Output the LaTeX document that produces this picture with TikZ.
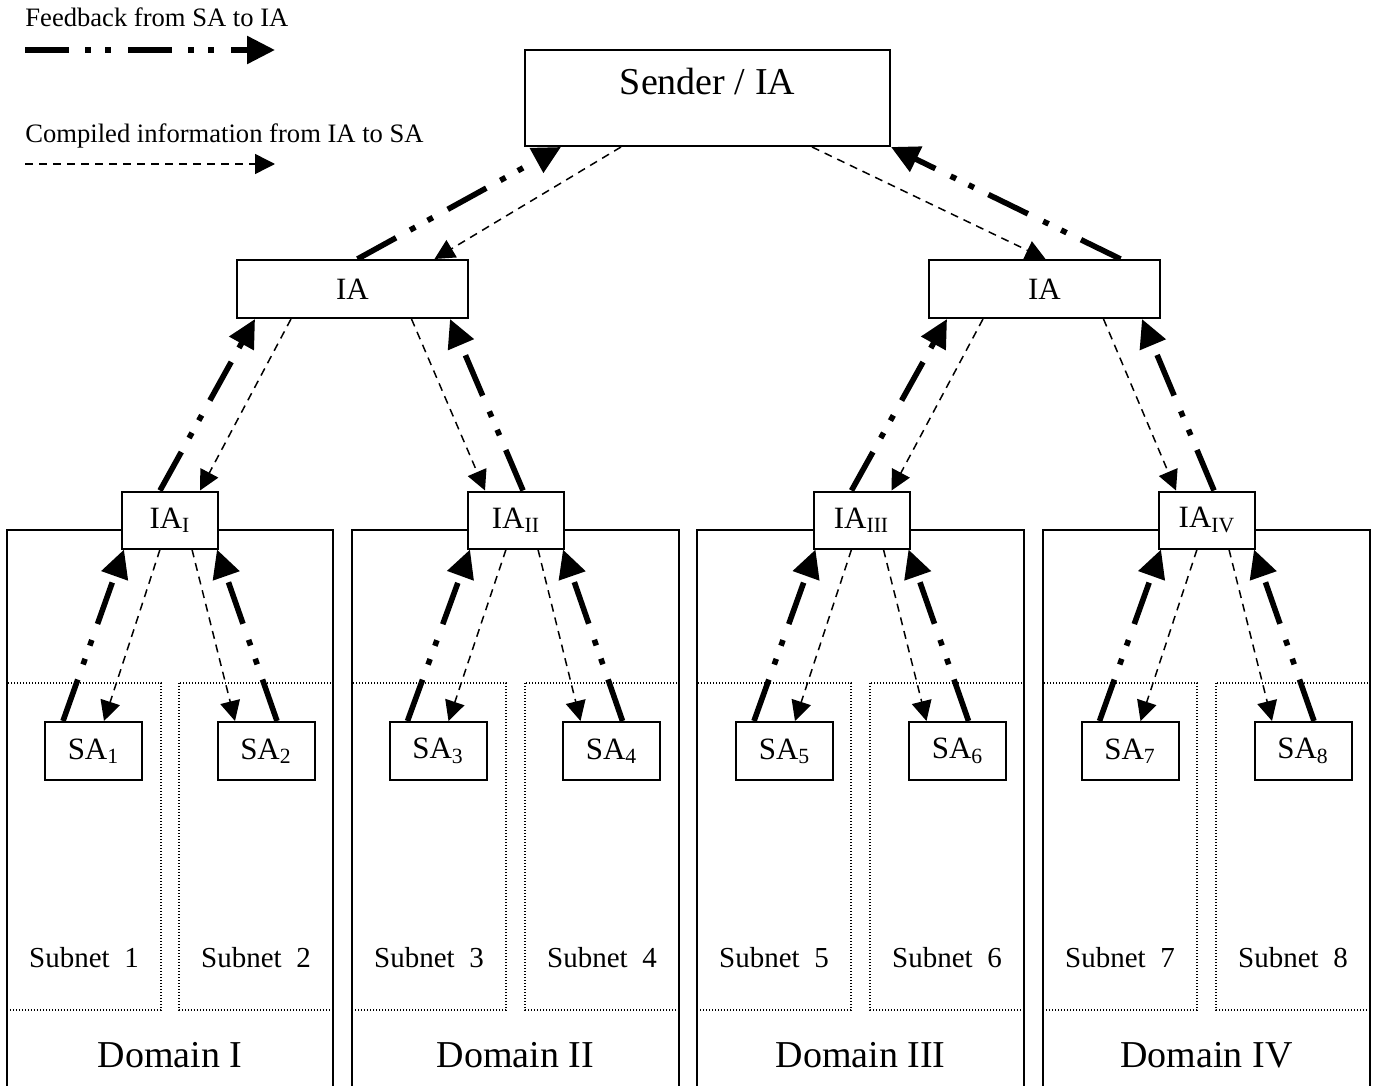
\documentclass[tikz,border=0pt]{standalone}
\usepackage{fontspec}
\setmainfont{Liberation Serif}
\usetikzlibrary{arrows.meta,calc}
\pgfdeclarelayer{bg}
\pgfsetlayers{bg,main}
\begin{document}
\begin{tikzpicture}[x=0.5pt,y=-0.5pt,
  box/.style={draw, line width=1pt, fill=white, inner sep=0pt},
  bigbox/.style={box, minimum width=182.5pt, minimum height=48pt},
  iabox/.style={box, minimum width=115.5pt, minimum height=29pt, font=\fontsize{15.5}{18}\selectfont},
  smbox/.style={box, minimum width=48pt, minimum height=28.5pt, font=\fontsize{15.5}{18}\selectfont},
  sabox/.style={box, minimum width=48.5pt, minimum height=29pt, font=\fontsize{15.5}{18}\selectfont},
  fb/.style={line width=2.8pt, dash pattern=on 22pt off 8pt on 3pt off 7pt on 3pt off 8.5pt, -{Triangle[length=14pt,width=13.5pt]}},
  cmp/.style={line width=0.75pt, dash pattern=on 4pt off 3pt, -{Triangle[length=10pt,width=10pt]}},
  dombox/.style={line width=1pt},
  subbox/.style={line width=0.6pt, dash pattern=on 0.6pt off 0.9pt},
  legtxt/.style={anchor=base west, inner sep=0pt, font=\fontsize{13.3}{16}\selectfont},
  subtxt/.style={anchor=base, inner sep=0pt, font=\fontsize{14.5}{17}\selectfont},
  domtxt/.style={anchor=base, inner sep=0pt, font=\fontsize{19}{22}\selectfont},
]
\useasboundingbox (0,0) rectangle (1377,1086);

% ---------- nodes ----------
\node[bigbox] (sender) at (707.5,98) {};
\node[anchor=base, inner sep=0pt, font=\fontsize{19}{22}\selectfont] (sendertxt) at (707.5,95) {Sender / IA};

\node[iabox] (ial) at (352.5,289) {IA};
\node[iabox] (iar) at (1044.5,289) {IA};

\node[smbox] (ia1) at (170,520) {IA\textsubscript{I}};
\node[smbox] (ia2) at (516,520) {IA\textsubscript{II}};
\node[smbox] (ia3) at (861.5,520) {IA\textsubscript{III}};
\node[smbox] (ia4) at (1207,520) {IA\textsubscript{IV}};

\node[sabox] (sa1) at (93.5,751) {SA\textsubscript{1}};
\node[sabox] (sa2) at (266,751) {SA\textsubscript{2}};
\node[sabox] (sa3) at (438,751) {SA\textsubscript{3}};
\node[sabox] (sa4) at (611.5,751) {SA\textsubscript{4}};
\node[sabox] (sa5) at (784.5,751) {SA\textsubscript{5}};
\node[sabox] (sa6) at (957.5,751) {SA\textsubscript{6}};
\node[sabox] (sa7) at (1130,751) {SA\textsubscript{7}};
\node[sabox] (sa8) at (1303,751) {SA\textsubscript{8}};

% subnet and domain labels
\node[subtxt] (sub1) at (84,967) {Subnet~~1};
\node[subtxt] (sub2) at (256,967) {Subnet~~2};
\node[subtxt] (sub3) at (429,967) {Subnet~~3};
\node[subtxt] (sub4) at (602,967) {Subnet~~4};
\node[subtxt] (sub5) at (774,967) {Subnet~~5};
\node[subtxt] (sub6) at (947,967) {Subnet~~6};
\node[subtxt] (sub7) at (1120,967) {Subnet~~7};
\node[subtxt] (sub8) at (1293,967) {Subnet~~8};

\node[domtxt] (dom1) at (170,1067) {Domain I};
\node[domtxt] (dom2) at (515.5,1067) {Domain II};
\node[domtxt] (dom3) at (860.5,1067) {Domain III};
\node[domtxt] (dom4) at (1206.5,1067) {Domain IV};

% legend
\node[legtxt] (fbtxt) at (25,27) {Feedback from SA to IA};
\node[legtxt] (cmptxt) at (25,142) {Compiled information from IA to SA};
\coordinate (fbA) at (25,50);
\coordinate (fbB) at (275,50);
\coordinate (cmA) at (25,164);
\coordinate (cmB) at (275,164);

\begin{pgfonlayer}{bg}
  % domains
  \draw[dombox] (7,1100) |- (333,530) -- (333,1100);
  \draw[dombox] (352,1100) |- (679,530) -- (679,1100);
  \draw[dombox] (697,1100) |- (1024,530) -- (1024,1100);
  \draw[dombox] (1043,1100) |- (1370,530) -- (1370,1100);
  % subnets
  \foreach \xa/\xb in {7/161,179/333,352/506,525/679,697/851,870/1024,1043/1197,1216/1370}
    \draw[subbox] (\xa,683) rectangle (\xb,1010);

  % legend arrows
  \draw[fb] (fbA) -- (fbB);
  \draw[cmp] (cmA) -- (cmB);

  % top level
  \draw[fb] ($(ial.north)+(5,0)$) -- ($(sender.south west)+(37,0)$);
  \draw[cmp] ($(sender.south west)+(97,0)$) -- ($(ial.north)+(82,0)$);
  \draw[cmp] ($(sender.south west)+(288,0)$) -- ($(iar.north)+(1,0)$);
  \draw[fb] ($(iar.north)+(76,0)$) -- (sender.south east);

  % second level
  \foreach \p/\a/\b in {ial/ia1/ia2, iar/ia3/ia4} {
    \draw[fb] ($(\a.north)+(-10,0)$) -- ($(\p.south)+(-97.5,0)$);
    \draw[cmp] ($(\p.south)+(-61.5,0)$) -- ($(\a.north)+(30,0)$);
    \draw[cmp] ($(\p.south)+(59,0)$) -- ($(\b.north)+(-31,0)$);
    \draw[fb] ($(\b.north)+(7,0)$) -- ($(\p.south)+(97.5,0)$);
  }

  % third level
  \foreach \i/\s/\t in {ia1/sa1/sa2, ia2/sa3/sa4, ia3/sa5/sa6, ia4/sa7/sa8} {
    \draw[fb] ($(\s.north)+(-30.5,0)$) -- ($(\i.south)+(-46,0)$);
    \draw[cmp] ($(\i.south)+(-10,0)$) -- ($(\s.north)+(10.5,0)$);
    \draw[cmp] ($(\i.south)+(22,0)$) -- ($(\t.north)+(-31,0)$);
    \draw[fb] ($(\t.north)+(11,0)$) -- ($(\i.south)+(47,0)$);
  }
\end{pgfonlayer}
\end{tikzpicture}
\end{document}
